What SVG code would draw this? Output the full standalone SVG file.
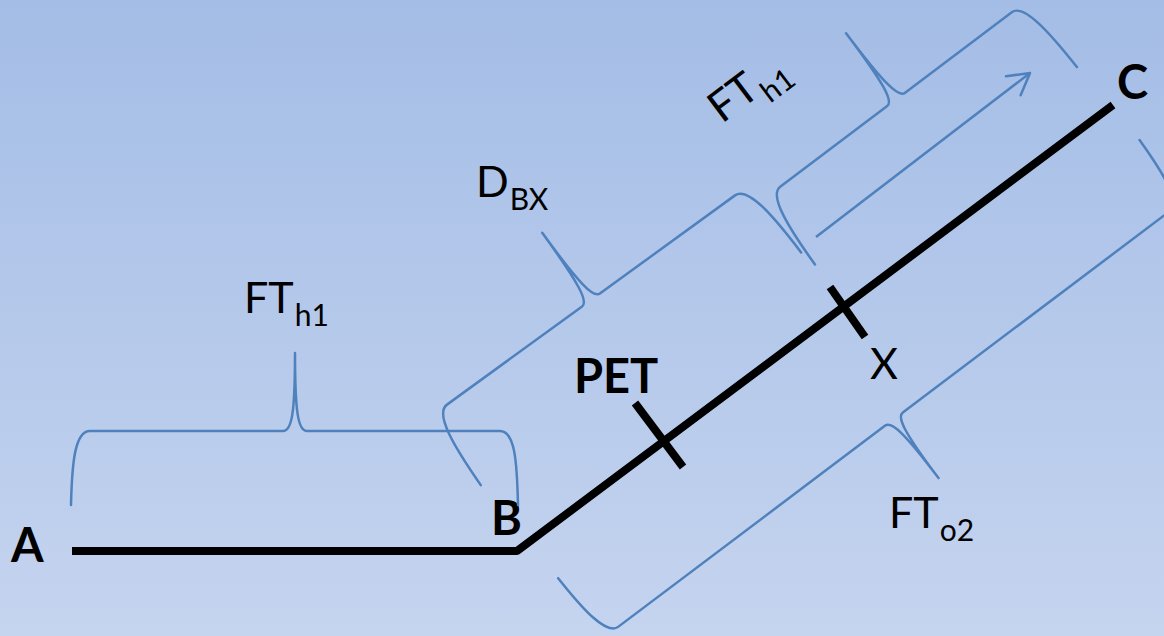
<svg xmlns="http://www.w3.org/2000/svg" width="1164" height="636" viewBox="0 0 1164 636">
  <defs>
    <linearGradient id="bg" x1="0" y1="0" x2="0" y2="1">
      <stop offset="0" stop-color="#a4bde6"/>
      <stop offset="1" stop-color="#c5d4ef"/>
    </linearGradient>
    <marker id="openArrow" markerUnits="userSpaceOnUse" markerWidth="30" markerHeight="30" viewBox="-25 -15 30 30" refX="0" refY="0" orient="auto" overflow="visible">
      <path d="M-21,-12 L0,0 L-21,12" fill="none" stroke="#4f81bd" stroke-width="2.5" stroke-linecap="round" stroke-linejoin="round"/>
    </marker>
    <style>
      .brace { fill: none; stroke: #4f81bd; stroke-width: 2.5; stroke-linecap: round; stroke-linejoin: round; }
      .route { fill: none; stroke: #000; stroke-width: 8; stroke-linejoin: bevel; }
      .tick { stroke: #000; stroke-width: 8; }
      .lbl { font-family: Lato, "Open Sans", "Liberation Sans", sans-serif; fill: #000; }
      .bold { font-weight: bold; font-size: 47px; }
      .reg { font-size: 43px; }
      .sub { font-size: 30px; }
    </style>
  </defs>

  <rect x="0" y="0" width="1164" height="636" fill="url(#bg)"/>

  <g id="connectors">
    <path class="route" d="M72,551 L517,551 L1113,105"/>
    <line id="arrow-FTh1" x1="816" y1="237" x2="1030" y2="73" stroke="#4f81bd" stroke-width="2.5" marker-end="url(#openArrow)"/>
  </g>

  <g id="node-A">
    <text class="lbl bold" x="11" y="562">A</text>
  </g>
  <g id="node-B">
    <text class="lbl bold" x="491" y="535">B</text>
  </g>
  <g id="node-C">
    <text class="lbl bold" x="1117" y="99">C</text>
  </g>
  <g id="node-PET">
    <line class="tick" x1="635" y1="403" x2="683" y2="467"/>
    <text class="lbl bold" x="574" y="393">PET</text>
  </g>
  <g id="node-X">
    <line class="tick" x1="830" y1="287" x2="865" y2="337"/>
    <text class="lbl reg" x="870" y="379">X</text>
  </g>

  <g id="brace-FTh1-AB">
    <path class="brace" d="M71,505 C72,462 75,431 90,431 L283,431 C292,431 295,412 295,353 C295,412 298,431 307,431 L500,431 C515,431 517,462 518,505"/>
    <text class="lbl reg" x="244" y="313">FT<tspan class="sub" dx="1" dy="13">h1</tspan></text>
  </g>

  <g id="brace-DBX">
    <path class="brace" transform="translate(591,300) rotate(-36)" d="M-198,85 C-197,40 -194,0 -178,0 L-11,0 C-3,0 0,-20 0,-83 C0,-20 3,0 11,0 L178,0 C194,0 197,40 198,85"/>
    <text class="lbl reg" x="476" y="197">D<tspan class="sub" dx="1" dy="13">BX</tspan></text>
  </g>

  <g id="brace-FTh1-XC">
    <path class="brace" transform="translate(896,99.5) rotate(-37)" d="M-164,83 C-163,40 -160,0 -145,0 L-11,0 C-3,0 0,-20 0,-83 C0,-20 3,0 11,0 L145,0 C160,0 163,40 164,83"/>
    <text class="lbl reg" transform="translate(722,124) rotate(-37)" x="0" y="0">FT<tspan class="sub" dx="1" dy="13">h1</tspan></text>
  </g>

  <g id="brace-FTo2">
    <path class="brace" transform="translate(894,419) rotate(-37) scale(1,-1)" d="M-364,75 C-363,35 -360,0 -345,0 L-11,0 C-3,0 0,-18 0,-74 C0,-18 3,0 11,0 L345,0 C360,0 363,35 364,75"/>
    <text class="lbl reg" x="889" y="528">FT<tspan class="sub" dx="1" dy="13">o2</tspan></text>
  </g>
</svg>
